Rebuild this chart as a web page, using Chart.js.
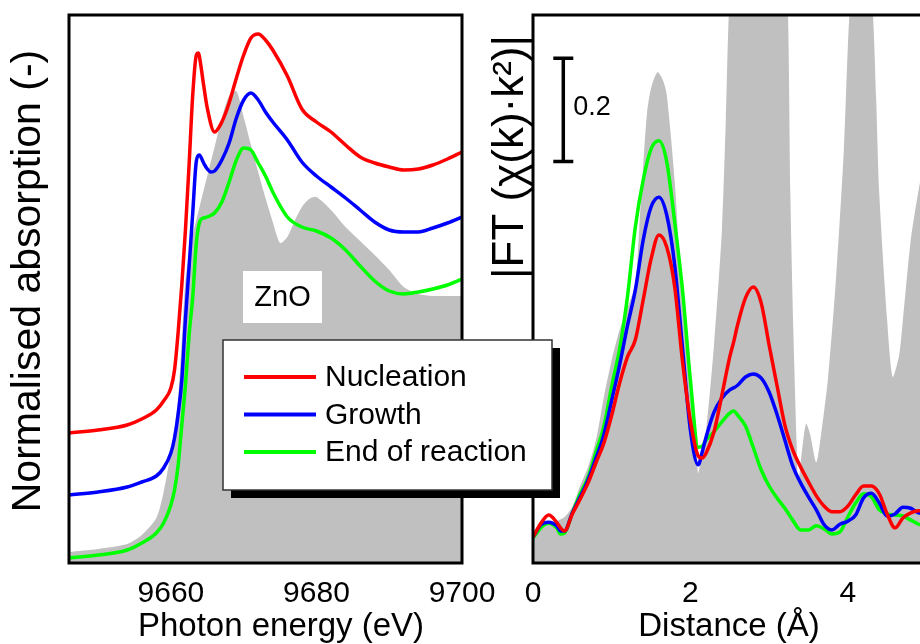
<!DOCTYPE html>
<html>
<head>
<meta charset="utf-8">
<script src="https://cdn.jsdelivr.net/npm/chart.js@4.4.1/dist/chart.umd.min.js"></script>
<style>
  html, body { margin: 0; padding: 0; background: #fff; overflow: hidden; }
  #wrap { position: relative; width: 920px; height: 644px; overflow: hidden; }
  canvas { position: absolute; left: 0; top: 0; }
</style>
</head>
<body>
<div id="wrap">
  <canvas id="ft" width="960" height="644"></canvas>
  <canvas id="xanes" width="960" height="644"></canvas>
</div>
<script>
// XANES (left) - photon energy in eV, normalised absorption with offsets
const xanesTicks = [9660, 9680, 9700];

const nucleationE = [9646, 9650, 9654, 9656, 9658, 9659, 9660, 9660.5, 9661, 9661.5, 9662, 9662.5, 9663, 9663.5, 9663.8, 9664, 9664.5, 9665, 9666, 9667, 9668, 9669, 9670, 9671, 9672, 9673, 9674, 9676, 9678, 9680, 9682, 9684, 9686, 9688, 9690, 9692, 9694, 9696, 9698, 9700];
const nucleationXanes = [0.52, 0.532, 0.552, 0.576, 0.612, 0.648, 0.7, 0.772, 0.924, 1.112, 1.332, 1.592, 1.872, 2.032, 2.04, 2.012, 1.912, 1.82, 1.724, 1.764, 1.84, 1.94, 2.032, 2.1, 2.116, 2.092, 2.052, 1.948, 1.816, 1.764, 1.724, 1.672, 1.624, 1.6, 1.584, 1.572, 1.576, 1.592, 1.616, 1.644];

const growthE = [9646, 9650, 9654, 9656, 9658, 9659, 9660, 9660.5, 9661, 9661.5, 9662, 9662.5, 9663, 9663.5, 9663.9, 9664.5, 9665, 9665.5, 9666, 9667, 9668, 9669, 9670, 9671, 9672, 9673, 9674, 9676, 9678, 9680, 9682, 9684, 9686, 9688, 9690, 9692, 9694, 9696, 9698, 9700];
const growthXanes = [0.272, 0.284, 0.304, 0.324, 0.348, 0.38, 0.44, 0.5, 0.596, 0.732, 0.976, 1.184, 1.4, 1.608, 1.632, 1.6, 1.576, 1.564, 1.568, 1.612, 1.68, 1.78, 1.852, 1.88, 1.852, 1.804, 1.764, 1.692, 1.604, 1.548, 1.504, 1.46, 1.412, 1.364, 1.332, 1.324, 1.324, 1.34, 1.36, 1.384];

const endE = [9646, 9650, 9654, 9656, 9658, 9659, 9660, 9660.5, 9661, 9661.5, 9662, 9662.5, 9663, 9663.5, 9664, 9664.5, 9665, 9666, 9667, 9668, 9669, 9670, 9671, 9672, 9673, 9674, 9676, 9678, 9680, 9682, 9684, 9686, 9688, 9690, 9692, 9694, 9696, 9698, 9700];
const endXanes = [0.02, 0.032, 0.052, 0.08, 0.12, 0.16, 0.232, 0.292, 0.392, 0.552, 0.712, 0.912, 1.064, 1.28, 1.368, 1.38, 1.384, 1.4, 1.444, 1.524, 1.612, 1.66, 1.652, 1.6, 1.548, 1.484, 1.384, 1.344, 1.328, 1.3, 1.252, 1.188, 1.128, 1.088, 1.076, 1.084, 1.096, 1.112, 1.136];

const znoE = [9646, 9650, 9654, 9656, 9658, 9659, 9660, 9660.5, 9661, 9661.5, 9662, 9662.5, 9663, 9664, 9665, 9666, 9667, 9668, 9669, 9670, 9671, 9672, 9673, 9674, 9675, 9676, 9677, 9678, 9679, 9680, 9682, 9684, 9686, 9688, 9690, 9692, 9694, 9696, 9698, 9700];
const znoXanes = [0.044, 0.056, 0.076, 0.112, 0.18, 0.284, 0.444, 0.54, 0.66, 0.892, 1.132, 1.232, 1.312, 1.432, 1.548, 1.664, 1.78, 1.868, 1.888, 1.784, 1.672, 1.564, 1.46, 1.364, 1.28, 1.304, 1.368, 1.424, 1.456, 1.464, 1.412, 1.344, 1.288, 1.232, 1.172, 1.104, 1.076, 1.068, 1.068, 1.068];

// Fourier transform (right) - distance in Angstrom
const ftTicks = [0, 2, 4];
const ftR = [0, 0.1, 0.2, 0.3, 0.35, 0.4, 0.5, 0.6, 0.7, 0.8, 0.9, 1.0, 1.1, 1.2, 1.3, 1.4, 1.5, 1.6, 1.7, 1.8, 1.9, 2.0, 2.1, 2.15, 2.2, 2.3, 2.4, 2.5, 2.55, 2.6, 2.7, 2.8, 2.9, 3.0, 3.1, 3.2, 3.3, 3.4, 3.5, 3.6, 3.7, 3.8, 3.9, 4.0, 4.1, 4.2, 4.3, 4.4, 4.5, 4.6, 4.7, 4.8, 4.9, 5.0];
const nucleationFt = [0.05, 0.077, 0.093, 0.079, 0.068, 0.062, 0.095, 0.124, 0.155, 0.194, 0.232, 0.286, 0.348, 0.399, 0.432, 0.509, 0.588, 0.635, 0.611, 0.535, 0.39, 0.275, 0.207, 0.203, 0.213, 0.254, 0.325, 0.399, 0.428, 0.461, 0.513, 0.534, 0.503, 0.422, 0.344, 0.267, 0.219, 0.186, 0.157, 0.13, 0.11, 0.099, 0.099, 0.11, 0.132, 0.149, 0.149, 0.134, 0.095, 0.068, 0.087, 0.097, 0.101, 0.101];
const growthFt = [0.05, 0.074, 0.079, 0.072, 0.062, 0.062, 0.097, 0.128, 0.161, 0.203, 0.248, 0.315, 0.383, 0.459, 0.528, 0.625, 0.689, 0.708, 0.673, 0.577, 0.416, 0.257, 0.19, 0.215, 0.244, 0.292, 0.319, 0.335, 0.339, 0.344, 0.36, 0.366, 0.358, 0.331, 0.288, 0.238, 0.188, 0.155, 0.128, 0.103, 0.074, 0.064, 0.075, 0.081, 0.093, 0.126, 0.135, 0.116, 0.091, 0.095, 0.108, 0.106, 0.097, 0.095];
const endFt = [0.048, 0.068, 0.077, 0.068, 0.056, 0.058, 0.097, 0.134, 0.166, 0.215, 0.264, 0.342, 0.414, 0.515, 0.65, 0.741, 0.801, 0.817, 0.776, 0.66, 0.528, 0.354, 0.224, 0.226, 0.238, 0.254, 0.273, 0.29, 0.294, 0.286, 0.265, 0.223, 0.18, 0.149, 0.126, 0.106, 0.083, 0.064, 0.064, 0.072, 0.066, 0.056, 0.06, 0.089, 0.116, 0.134, 0.128, 0.103, 0.095, 0.093, 0.091, 0.083, 0.075, 0.07];

const znoR = [0, 0.1, 0.2, 0.3, 0.4, 0.5, 0.6, 0.7, 0.8, 0.9, 1.0, 1.1, 1.2, 1.3, 1.35, 1.4, 1.45, 1.5, 1.58, 1.65, 1.7, 1.8, 1.9, 2.0, 2.07, 2.1, 2.15, 2.2, 2.3, 2.4, 2.45, 2.5, 2.6, 2.7, 2.8, 2.9, 3.0, 3.1, 3.2, 3.24, 3.27, 3.31, 3.35, 3.37, 3.42, 3.47, 3.52, 3.6, 3.67, 3.75, 3.85, 3.95, 4.02, 4.1, 4.17, 4.25, 4.32, 4.36, 4.4, 4.5, 4.57, 4.65, 4.7, 4.8, 4.9, 5.0];
const znoFt = [0.05, 0.064, 0.075, 0.081, 0.089, 0.109, 0.15, 0.186, 0.238, 0.321, 0.393, 0.451, 0.493, 0.542, 0.648, 0.77, 0.873, 0.919, 0.95, 0.935, 0.906, 0.741, 0.499, 0.372, 0.232, 0.174, 0.219, 0.257, 0.422, 0.644, 0.857, 1.1, 1.22, 1.3, 1.34, 1.34, 1.3, 1.22, 1.1, 1.06, 0.716, 0.44, 0.232, 0.155, 0.22, 0.27, 0.25, 0.195, 0.26, 0.36, 0.55, 0.8, 1.06, 1.18, 1.22, 1.18, 1.06, 0.9, 0.715, 0.47, 0.36, 0.4, 0.47, 0.625, 0.722, 0.8];

const seriesNames = ['Nucleation', 'Growth', 'End of reaction'];
const seriesColors = ['#ff0000', '#0000ff', '#00ff00'];
const refColor = '#c0c0c0';

const FONT = '"Liberation Sans", Arial, Helvetica, sans-serif';

function points(xs, ys) {
    return xs.map((x, i) => ({ x: x, y: ys[i] }));
}

function lineSet(i, xs, ys) {
    return {
        label: seriesNames[i],
        data: points(xs, ys),
        borderColor: seriesColors[i],
        borderWidth: 3.5,
        pointRadius: 0,
        fill: false,
        cubicInterpolationMode: 'monotone',
        order: i + 1
    };
}

function refSet(xs, ys) {
    return {
        label: 'ZnO',
        isRef: true,
        data: points(xs, ys),
        borderWidth: 0,
        borderColor: refColor,
        backgroundColor: refColor,
        pointRadius: 0,
        fill: 'start',
        tension: 0.25,
        order: 10
    };
}

function xAxis(min, max, ticks) {
    return {
        type: 'linear',
        min: min,
        max: max,
        grid: { display: false },
        border: { display: false },
        ticks: {
            color: '#000',
            font: { family: FONT, size: 30 },
            padding: 5,
            maxRotation: 0,
            autoSkip: false,
            callback: v => String(v)
        },
        afterBuildTicks: s => { s.ticks = ticks.map(v => ({ value: v })); },
        afterFit: s => { s.height = 81; }
    };
}

function text(ctx, str, x, y, size, align, rotate) {
    ctx.save();
    ctx.translate(x, y);
    if (rotate) ctx.rotate(-Math.PI / 2);
    ctx.font = size + 'px ' + FONT;
    ctx.fillStyle = '#000';
    ctx.textAlign = align || 'center';
    ctx.textBaseline = 'middle';
    ctx.fillText(str, 0, 0);
    ctx.restore();
}

function frame(ctx, a) {
    ctx.save();
    ctx.strokeStyle = '#000';
    ctx.lineWidth = 3;
    ctx.strokeRect(a.left, a.top, a.right - a.left, a.bottom - a.top);
    ctx.restore();
}

// Left panel decorations: frame, ZnO tag, titles and the legend box
const xanesDecor = {
    id: 'xanesDecor',
    afterDraw(chart) {
        const ctx = chart.ctx;
        const a = chart.chartArea;
        frame(ctx, a);

        // ZnO tag
        ctx.fillStyle = '#fff';
        ctx.fillRect(243, 271, 79, 52);
        text(ctx, 'ZnO', 282.5, 298, 29);

        text(ctx, 'Photon energy (eV)', 281, 627, 33);
        text(ctx, 'Normalised absorption (-)', 29, 281, 41, 'center', true);

        // legend with drop shadow
        const box = { x: 223, y: 340, w: 329, h: 150 };
        ctx.fillStyle = '#000';
        ctx.fillRect(box.x + 8, box.y + 8, box.w, box.h);
        ctx.fillStyle = '#fff';
        ctx.fillRect(box.x, box.y, box.w, box.h);
        ctx.strokeStyle = '#333';
        ctx.lineWidth = 1.5;
        ctx.strokeRect(box.x, box.y, box.w, box.h);
        const rows = chart.data.datasets.filter(d => !d.isRef);
        rows.forEach((d, i) => {
            const y = 377 + i * 37.5;
            ctx.strokeStyle = d.borderColor;
            ctx.lineWidth = 4;
            ctx.beginPath();
            ctx.moveTo(244, y);
            ctx.lineTo(316, y);
            ctx.stroke();
            text(ctx, d.label, 325, y + 1, 30, 'left');
        });
    }
};

// Right panel decorations: frame, 0.2 scale bar and titles
const ftDecor = {
    id: 'ftDecor',
    afterDraw(chart) {
        const ctx = chart.ctx;
        const a = chart.chartArea;
        const xs = chart.scales.x;
        const ys = chart.scales.y;
        frame(ctx, a);

        const bx = xs.getPixelForValue(0.385);
        const y0 = ys.getPixelForValue(0.777);
        const y1 = ys.getPixelForValue(0.977);
        ctx.save();
        ctx.strokeStyle = '#000';
        ctx.lineWidth = 3.5;
        ctx.beginPath();
        ctx.moveTo(bx, y0); ctx.lineTo(bx, y1);
        ctx.moveTo(bx - 10, y0); ctx.lineTo(bx + 10, y0);
        ctx.moveTo(bx - 10, y1); ctx.lineTo(bx + 10, y1);
        ctx.stroke();
        ctx.restore();
        text(ctx, '0.2', bx + 10, (y0 + y1) / 2 - 2, 27, 'left');

        text(ctx, 'Distance (\u00c5)', 729, 627, 33);
        text(ctx, '|FT (\u03c7(k)\u00b7k\u00b2)|', 511, 157, 44, 'center', true);
    }
};

function baseOptions(padLeft, padRight, xs, yMax) {
    return {
        responsive: false,
        devicePixelRatio: 1,
        animation: false,
        layout: { padding: { left: padLeft, right: padRight, top: 15, bottom: 0 } },
        plugins: { legend: { display: false }, tooltip: { enabled: false } },
        scales: {
            x: xs,
            y: { type: 'linear', display: false, min: 0, max: yMax }
        }
    };
}

new Chart(document.getElementById('ft'), {
    type: 'line',
    data: {
        datasets: [
            lineSet(0, ftR, nucleationFt),
            lineSet(1, ftR, growthFt),
            lineSet(2, ftR, endFt),
            refSet(znoR, znoFt)
        ]
    },
    options: baseOptions(533, 960 - 926.5, xAxis(0, 5, ftTicks), 1.0606),
    plugins: [ftDecor]
});

new Chart(document.getElementById('xanes'), {
    type: 'line',
    data: {
        datasets: [
            lineSet(0, nucleationE, nucleationXanes),
            lineSet(1, growthE, growthXanes),
            lineSet(2, endE, endXanes),
            refSet(znoE, znoXanes)
        ]
    },
    options: baseOptions(69, 960 - 462, xAxis(9646, 9700, xanesTicks), 2.192),
    plugins: [xanesDecor]
});
</script>
</body>
</html>
